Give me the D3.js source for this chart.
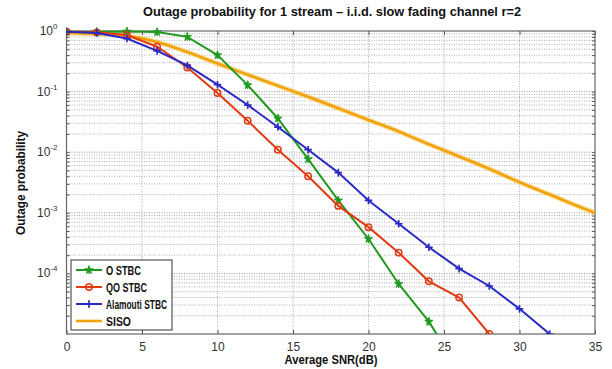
<!DOCTYPE html>
<html>
<head>
<meta charset="utf-8">
<script src="https://cdn.jsdelivr.net/npm/d3@7"></script>
<style>
  body { margin: 0; background: #fff; }
  svg { display: block; font-family: "Liberation Sans", Arial, sans-serif; }
</style>
</head>
<body>
<svg id="chart" width="612" height="369"></svg>
<script>
// values (outage probability vs SNR in dB)
const snrMarked = [0, 2, 4, 6, 8, 10, 12, 14, 16, 18, 20, 22, 24, 26, 28, 30, 32];
const oStbc = [0.97, 0.97, 0.98, 0.96, 0.8, 0.40, 0.128, 0.036, 0.0077, 0.0016, 3.7e-4, 6.7e-5, 1.6e-5, 2.5e-6];
const qoStbc = [0.97, 0.95, 0.86, 0.55, 0.25, 0.095, 0.033, 0.011, 0.004, 0.0013, 5.8e-4, 2.2e-4, 7.4e-5, 4e-5, 1e-5];
const alamouti = [0.97, 0.93, 0.75, 0.47, 0.27, 0.13, 0.06, 0.026, 0.011, 0.0046, 0.0016, 6.6e-4, 2.7e-4, 1.2e-4, 6.2e-5, 2.6e-5, 1e-5];
const snrSiso = [0, 2, 4, 6, 8, 10, 12, 14, 16, 18, 20, 22, 24, 26, 28, 30, 32, 34, 35];
const siso = [0.93, 0.9, 0.83, 0.66, 0.45, 0.29, 0.19, 0.125, 0.082, 0.053, 0.034, 0.022, 0.0135, 0.0085, 0.0053, 0.0032, 0.002, 0.00125, 0.001];

const xTicks = [0, 5, 10, 15, 20, 25, 30, 35];
const yTickExp = [0, -1, -2, -3, -4];
const seriesNames = ["O STBC", "QO STBC", "Alamouti STBC", "SISO"];

const svg = d3.select('#chart');
const m = {left: 66.5, right: 595, top: 31, bottom: 334};

const x = d3.scaleLinear().domain([0, 35]).range([m.left, m.right]);
const y = d3.scaleLog().domain([1e-5, 1]).range([m.bottom, m.top]);

// plot background
svg.append('rect')
    .attr('x', m.left).attr('y', m.top)
    .attr('width', m.right - m.left).attr('height', m.bottom - m.top)
    .attr('fill', '#fff');

// grid lines - dotted like matlab
const grid = svg.append('g').attr('stroke', '#999').attr('stroke-width', 0.8).attr('stroke-dasharray', '1,1.5');
const minorVals = [];
for (let e = -5; e < 0; e++) {
    for (let k = 2; k <= 9; k++) minorVals.push(k * Math.pow(10, e));
}
grid.selectAll('.minor').data(minorVals).enter().append('line')
    .attr('x1', m.left).attr('x2', m.right)
    .attr('y1', d => y(d)).attr('y2', d => y(d));
grid.selectAll('.major').data(yTickExp.slice(1)).enter().append('line')
    .attr('x1', m.left).attr('x2', m.right)
    .attr('y1', d => y(Math.pow(10, d))).attr('y2', d => y(Math.pow(10, d)))
    .attr('stroke', '#777');
grid.selectAll('.vgrid').data(xTicks.slice(1, -1)).enter().append('line')
    .attr('x1', d => x(d)).attr('x2', d => x(d))
    .attr('y1', m.top).attr('y2', m.bottom);

// axes with inward ticks
const xAxis = d3.axisBottom(x).tickValues(xTicks).tickSizeInner(-4).tickSizeOuter(0).tickPadding(8);
const gx = svg.append('g').attr('transform', `translate(0,${m.bottom})`).call(xAxis);
gx.select('.domain').remove();
gx.selectAll('text').attr('font-family', 'Liberation Sans, sans-serif').attr('font-size', 12).attr('fill', '#333');
gx.selectAll('line').attr('stroke', '#555');

const xTop = d3.axisTop(x).tickValues(xTicks).tickSizeInner(-4).tickSizeOuter(0).tickFormat('');
const gxt = svg.append('g').attr('transform', `translate(0,${m.top})`).call(xTop);
gxt.select('.domain').remove();
gxt.selectAll('line').attr('stroke', '#555');

const yAxis = d3.axisLeft(y).tickValues(minorVals.concat(yTickExp.map(e => Math.pow(10, e))))
    .tickSizeInner(-3).tickSizeOuter(0).tickFormat('');
const gy = svg.append('g').attr('transform', `translate(${m.left},0)`).call(yAxis);
gy.select('.domain').remove();
gy.selectAll('line').attr('stroke', '#555');
const gyr = svg.append('g').attr('transform', `translate(${m.right},0)`).call(d3.axisRight(y)
    .tickValues(minorVals.concat(yTickExp.map(e => Math.pow(10, e)))).tickSizeInner(-3).tickSizeOuter(0).tickFormat(''));
gyr.select('.domain').remove();
gyr.selectAll('line').attr('stroke', '#555');

// y tick labels 10^n
const yl = svg.append('g').attr('font-family', 'Liberation Sans, sans-serif').attr('fill', '#333');
yTickExp.forEach(e => {
    const t = yl.append('text')
        .attr('x', m.left - 9).attr('y', y(Math.pow(10, e)) + 4)
        .attr('text-anchor', 'end').attr('font-size', 12);
    t.append('tspan').text('10');
    t.append('tspan').attr('dy', -6).attr('font-size', 8).text(e);
});

// plot frame
svg.append('rect')
    .attr('x', m.left).attr('y', m.top)
    .attr('width', m.right - m.left).attr('height', m.bottom - m.top)
    .attr('fill', 'none').attr('stroke', '#666').attr('stroke-width', 1.2);

// clip the curves to the plot area
svg.append('clipPath').attr('id', 'clip').append('rect')
    .attr('x', m.left).attr('y', m.top - 6)
    .attr('width', m.right - m.left).attr('height', m.bottom - m.top + 6);

const colors = ['#1f9a1f', '#df3c14', '#2a2ac4', '#f0a30a'];
const line = d3.line().x(d => x(d[0])).y(d => y(d[1]));
const plot = svg.append('g').attr('clip-path', 'url(#clip)');

// SISO first (thick, no markers)
const sisoPts = snrSiso.map((s, i) => [s, siso[i]]);
plot.append('path').datum(sisoPts)
    .attr('d', line.curve(d3.curveMonotoneX))
    .attr('fill', 'none').attr('stroke', '#f7c860').attr('stroke-width', 5).attr('opacity', 0.6);
plot.append('path').datum(sisoPts)
    .attr('d', line.curve(d3.curveMonotoneX))
    .attr('fill', 'none').attr('stroke', colors[3]).attr('stroke-width', 2.6);

const series = [oStbc, qoStbc, alamouti];
const markers = ['star', 'circle', 'plus'];
series.forEach((vals, si) => {
    const pts = vals.map((v, i) => [snrMarked[i], v]);
    plot.append('path').datum(pts)
        .attr('d', d3.line().x(d => x(d[0])).y(d => y(d[1]))(pts))
        .attr('fill', 'none').attr('stroke', colors[si]).attr('stroke-width', 2);
    const mk = plot.append('g');
    pts.forEach(p => {
        if (p[1] < 1e-5 * 0.9) return;
        drawMarker(mk, markers[si], x(p[0]), y(p[1]), colors[si]);
    });
});

function drawMarker(g, type, cx, cy, col) {
    if (type === 'star') {
        g.append('path').attr('d', d3.symbol(d3.symbolStar, 22)())
            .attr('transform', `translate(${cx},${cy})`)
            .attr('fill', col).attr('stroke', col).attr('stroke-width', 0.8);
        g.append('path').attr('d', `M${cx},${cy - 4}V${cy + 4}`)
            .attr('stroke', col).attr('stroke-width', 1.2);
    } else if (type === 'circle') {
        g.append('circle').attr('cx', cx).attr('cy', cy).attr('r', 3.2)
            .attr('fill', 'none').attr('stroke', col).attr('stroke-width', 1.5);
    } else {
        g.append('path').attr('d', `M${cx - 3.8},${cy}H${cx + 3.8}M${cx},${cy - 3.8}V${cy + 3.8}`)
            .attr('stroke', col).attr('stroke-width', 1.7);
    }
}

// legend
const lg = svg.append('g');
lg.append('rect').attr('x', 71).attr('y', 260).attr('width', 101).attr('height', 70)
    .attr('fill', '#fff').attr('stroke', '#333').attr('stroke-width', 1);
const legendWidths = [35, 41, 61, 25];
seriesNames.forEach((name, i) => {
    const yy = 270 + i * 17;
    lg.append('line').attr('x1', 76).attr('x2', 102).attr('y1', yy).attr('y2', yy)
        .attr('stroke', colors[i]).attr('stroke-width', i === 3 ? 2.6 : 2);
    if (i < 3) drawMarker(lg, markers[i], 89, yy, colors[i]);
    lg.append('text').attr('x', 106).attr('y', yy + 4.5)
        .attr('font-size', 12.5).attr('font-weight', 'bold').attr('fill', '#111')
        .attr('textLength', legendWidths[i]).attr('lengthAdjust', 'spacingAndGlyphs')
        .text(name);
});

// title and axis labels
svg.append('text').attr('x', 332).attr('y', 16).attr('text-anchor', 'middle')
    .attr('font-size', 13).attr('font-weight', 'bold').attr('fill', '#111')
    .attr('textLength', 378).attr('lengthAdjust', 'spacingAndGlyphs')
    .text('Outage probability for 1 stream \u2013 i.i.d. slow fading channel r=2');
svg.append('text').attr('x', 331).attr('y', 364).attr('text-anchor', 'middle')
    .attr('font-size', 13).attr('font-weight', 'bold').attr('fill', '#111')
    .attr('textLength', 93).attr('lengthAdjust', 'spacingAndGlyphs')
    .text('Average SNR(dB)');
svg.append('text').attr('transform', 'translate(25,183) rotate(-90)').attr('text-anchor', 'middle')
    .attr('font-size', 13).attr('font-weight', 'bold').attr('fill', '#111')
    .attr('textLength', 104).attr('lengthAdjust', 'spacingAndGlyphs')
    .text('Outage probability');
</script>
</body>
</html>
